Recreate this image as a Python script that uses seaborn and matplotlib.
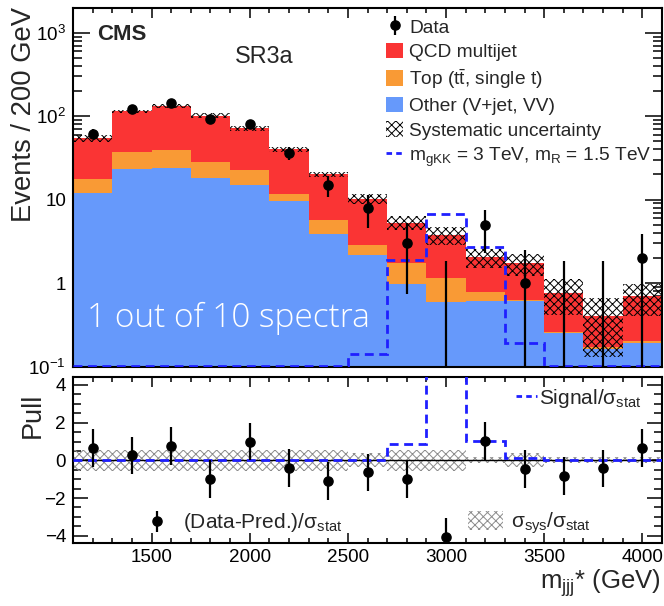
import numpy as np
import pandas as pd
import matplotlib
matplotlib.use("Agg")
import matplotlib.pyplot as plt
import seaborn as sns
from matplotlib.patches import Patch
from matplotlib.lines import Line2D
from matplotlib.legend import Legend
from matplotlib.ticker import MultipleLocator, FixedLocator, FixedFormatter, NullFormatter

# ---------------- data ----------------
bin_edges = [1100, 1300, 1500, 1700, 1900, 2100, 2300, 2500, 2700, 2900, 3100, 3300, 3500, 3700, 3900, 4100]
bin_centers = [1200, 1400, 1600, 1800, 2000, 2200, 2400, 2600, 2800, 3000, 3200, 3400, 3600, 3800, 4000]

other = [11.9, 23.0, 24.0, 18.0, 14.9, 9.5, 3.9, 2.14, 0.98, 0.59, 0.61, 0.61, 0.25, 0.16, 0.19]
top = [5.6, 14.0, 15.0, 10.0, 7.6, 2.3, 1.85, 0.74, 0.75, 0.57, 0.17, 0.01, 0.01, 0.01, 0.01]
qcd = [36.5, 77.0, 92.0, 73.0, 49.0, 28.2, 14.25, 7.42, 3.57, 2.6, 1.27, 1.12, 0.51, 0.23, 0.49]
sys_unc = [5.0, 6.0, 7.5, 7.0, 4.5, 3.0, 1.6, 1.5, 1.0, 0.93, 0.53, 0.51, 0.36, 0.27, 0.29]

data = [61, 121, 143, 92, 80, 36, 15, 8, 3, 0, 5, 1, 0, 0, 2]
data_err_dn = [7.8, 11.0, 12.0, 9.6, 8.9, 6.0, 4.3, 3.4, 2.27, 0.0, 2.7, 1.0, 0.0, 0.0, 2.0]
data_err_up = [8.8, 12.0, 13.0, 10.6, 9.9, 7.0, 4.1, 3.2, 2.2, 1.84, 2.6, 1.5, 1.84, 1.84, 1.9]

signal = [0.101, 0.101, 0.101, 0.101, 0.101, 0.101, 0.101, 0.14, 1.87, 6.8, 2.7, 0.19, 0.101, 0.101, 0.101]

pull = [0.65, 0.26, 0.78, -0.99, 1.0, -0.4, -1.1, -0.64, -1.0, -4.08, 1.04, -0.47, -0.83, -0.43, 0.66]
pull_err = [1.0, 1.0, 1.0, 1.0, 1.0, 1.0, 1.0, 1.0, 1.0, 1.0, 1.0, 1.0, 1.0, 1.0, 1.0]
sys_over_stat = [0.55, 0.55, 0.55, 0.55, 0.55, 0.55, 0.55, 0.37, 0.55, 0.55, 0.16, 0.37, 0.16, 0.16, 0.16]
signal_over_stat = [0.0, 0.0, 0.0, 0.0, 0.0, 0.0, 0.0, 0.02, 0.85, 6.0, 1.02, 0.14, 0.04, 0.03, 0.03]

process_names = ["QCD multijet", "Top (t$\\mathrm{\\bar{t}}$, single t)", "Other (V+jet, VV)"]
process_colors = ["#fa3434", "#f99a35", "#6699fb"]
x_ticks = [1500, 2000, 2500, 3000, 3500, 4000]
y_ticks = [0.1, 1, 10, 100, 1000]
y_ticklabels = ["$10^{-1}$", "1", "10", "$10^{2}$", "$10^{3}$"]
pull_ticks = [-4, -2, 0, 2, 4]
pull_ticklabels = ["\u22124", "\u22122", "0", "2", "4"]

# ---------------- style ----------------
sns.set_theme(style="ticks")
plt.rcParams["font.family"] = ["Liberation Sans", "DejaVu Sans"]
plt.rcParams["mathtext.fontset"] = "custom"
plt.rcParams["mathtext.rm"] = "Liberation Sans"
plt.rcParams["mathtext.it"] = "Liberation Sans:italic"
plt.rcParams["mathtext.bf"] = "Liberation Sans:bold"
plt.rcParams["mathtext.sf"] = "Liberation Sans"
plt.rcParams["hatch.linewidth"] = 0.7

SIG_COLOR = "#1f1fff"
SIG_LS = (0, (3.2, 2.0))
SIG_LS_LEG = (0, (2.0, 1.5))

W, H = 664, 606
fig = plt.figure(figsize=(W / 100, H / 100), dpi=100)
fig.patch.set_facecolor("white")


def fx(px):
    return px / W


def fy(py):
    return 1 - py / H


ax1 = fig.add_axes([fx(73), fy(366.5), fx(662) - fx(73), fy(8.3) - fy(366.5)])
ax2 = fig.add_axes([fx(73), fy(543.3), fx(662) - fx(73), fy(376.5) - fy(543.3)])
for ax in (ax1, ax2):
    ax.set_facecolor("white")

# ---------------- upper panel: stacked histogram ----------------
rows = []
for name, vals in zip(process_names, [qcd, top, other]):
    for c, v in zip(bin_centers, vals):
        rows.append({"x": c, "w": v, "proc": name})
df = pd.DataFrame(rows)

sns.histplot(data=df, x="x", weights="w", hue="proc", hue_order=process_names,
             palette=dict(zip(process_names, process_colors)), bins=bin_edges,
             multiple="stack", element="step", fill=True, alpha=1.0, linewidth=0,
             legend=False, ax=ax1)
ax1.set_yscale("log")

total = np.array(qcd) + np.array(top) + np.array(other)
sys_arr = np.array(sys_unc)
ax1.bar(bin_centers, 2 * sys_arr, bottom=total - sys_arr, width=200, fill=False,
        hatch="xxxx", edgecolor="black", linewidth=0, zorder=3)

ax1.stairs(signal, bin_edges, baseline=None, color=SIG_COLOR, linewidth=2.0,
           linestyle=SIG_LS, zorder=4)

eb = ax1.errorbar(bin_centers, data, yerr=[data_err_dn, data_err_up], fmt="o",
                  color="black", markersize=6.6, elinewidth=1.6, capsize=0, zorder=5)

ax1.set_xlim(1100, 4100)
ax1.set_ylim(0.1, 1960)
ax1.set_xlabel("")
ax1.set_ylabel("")
ax1.yaxis.set_major_locator(FixedLocator(y_ticks))
ax1.yaxis.set_major_formatter(FixedFormatter(y_ticklabels))
ax1.yaxis.set_minor_locator(matplotlib.ticker.LogLocator(base=10, subs=np.arange(2, 10)))
ax1.yaxis.set_minor_formatter(NullFormatter())
ax1.xaxis.set_major_locator(FixedLocator(x_ticks))
ax1.xaxis.set_minor_locator(MultipleLocator(100))
ax1.tick_params(axis="x", which="both", labelbottom=False)

# texts
ax1.text(fx(97), fy(39.5), "CMS", transform=fig.transFigure, fontsize=16,
         fontweight="bold", ha="left", va="baseline")
ax1.text(fx(235), fy(63.3), "SR3a", transform=fig.transFigure, fontsize=16.8,
         ha="left", va="baseline")
ax1.text(fx(87), fy(326.7), "1 out of 10 spectra", transform=fig.transFigure,
         fontsize=24, color="white", ha="left", va="baseline",
         family=["Open Sans", "DejaVu Sans"], fontweight="light", zorder=6)

# legend upper
h_data = eb
h_qcd = Patch(facecolor=process_colors[0], edgecolor="none")
h_top = Patch(facecolor=process_colors[1], edgecolor="none")
h_oth = Patch(facecolor=process_colors[2], edgecolor="none")
h_sys = Patch(facecolor="white", edgecolor="black", hatch="xxxx", linewidth=0)
h_sig = Line2D([], [], color=SIG_COLOR, linewidth=2.0, linestyle=SIG_LS_LEG)
leg1 = ax1.legend([h_data, h_qcd, h_top, h_oth, h_sys, h_sig],
                  ["Data", process_names[0], process_names[1], process_names[2],
                   "Systematic uncertainty",
                   "$\\mathrm{m_{gKK}}$ = 3 TeV, $\\mathrm{m_{R}}$ = 1.5 TeV"],
                  loc="upper left", bbox_to_anchor=(fx(386), fy(18)),
                  bbox_transform=fig.transFigure, frameon=False, fontsize=13.8,
                  handlelength=0.9, handleheight=0.9, handletextpad=0.3,
                  labelspacing=0.31, borderpad=0, borderaxespad=0)

# ---------------- lower panel: pulls ----------------
ax2.bar(bin_centers, 2 * np.array(sys_over_stat), bottom=-np.array(sys_over_stat), width=200,
        fill=False, hatch="xxxx", edgecolor="#8c8c8c", linewidth=0, zorder=1)
ax2.axhline(0, color="black", linewidth=1.0, zorder=2)
ax2.stairs(signal_over_stat, bin_edges, baseline=None, color=SIG_COLOR, linewidth=2.0,
           linestyle=SIG_LS, zorder=3)
eb2 = ax2.errorbar(bin_centers, pull, yerr=pull_err, fmt="o", color="black",
                   markersize=6.6, elinewidth=1.6, capsize=0, zorder=4)
ax2.set_xlim(1100, 4100)
ax2.set_ylim(-4.4, 4.45)
ax2.yaxis.set_major_locator(FixedLocator(pull_ticks))
ax2.yaxis.set_major_formatter(FixedFormatter(pull_ticklabels))
ax2.yaxis.set_minor_locator(MultipleLocator(0.5))
ax2.xaxis.set_major_locator(FixedLocator(x_ticks))
ax2.xaxis.set_minor_locator(MultipleLocator(100))

# tick styling for both panels
for ax in (ax1, ax2):
    for s in ax.spines.values():
        s.set_linewidth(1.5)
        s.set_color("black")
        s.set_visible(True)
    ax.tick_params(which="both", direction="in", top=True, right=True, colors="black",
                   labelsize=13.6, width=1.1)
    ax.tick_params(axis="x", which="major", length=7, pad=4)
    ax.tick_params(axis="x", which="minor", length=3.6)
ax1.tick_params(axis="y", which="major", length=12, pad=5)
ax1.tick_params(axis="y", which="minor", length=6.5)
ax2.tick_params(axis="y", which="major", length=11, pad=5)
ax2.tick_params(axis="y", which="minor", length=5.5)

# lower legends
h_sig2 = Line2D([], [], color=SIG_COLOR, linewidth=2.0, linestyle=SIG_LS_LEG)
lg_a = Legend(ax2, [h_sig2], ["Signal/$\\mathrm{\\sigma_{stat}}$"], loc="center left",
              bbox_to_anchor=(fx(516), fy(398)), bbox_transform=fig.transFigure,
              frameon=False, fontsize=15, handlelength=1.0, handletextpad=0.1,
              borderpad=0, borderaxespad=0)
ax2.add_artist(lg_a)
lg_b = Legend(ax2, [eb2], ["(Data-Pred.)/$\\mathrm{\\sigma_{stat}}$"], loc="center left",
              bbox_to_anchor=(fx(147), fy(523)), bbox_transform=fig.transFigure,
              frameon=False, fontsize=15, handlelength=1.0, handleheight=0.7,
              handletextpad=0.75, borderpad=0, borderaxespad=0)
ax2.add_artist(lg_b)
h_sys2 = Patch(facecolor="white", edgecolor="#8c8c8c", hatch="xxxx", linewidth=0)
lg_c = Legend(ax2, [h_sys2], ["$\\mathrm{\\sigma_{sys}/\\sigma_{stat}}$"], loc="center left",
              bbox_to_anchor=(fx(468), fy(523)), bbox_transform=fig.transFigure,
              frameon=False, fontsize=15, handlelength=1.7, handleheight=1.0,
              handletextpad=0.35, borderpad=0, borderaxespad=0)
ax2.add_artist(lg_c)

ax2.set_xlabel("")
ax2.set_ylabel("")

# axis titles
fig.text(fx(24), fy(7), "Events / 200 GeV", rotation=90, ha="center", va="top", fontsize=19.7)
fig.text(fx(33), fy(393), "Pull", rotation=90, ha="center", va="top", fontsize=19.5)
fig.text(fx(661), fy(589), "$\\mathrm{m_{jjj}}$* (GeV)", ha="right", va="baseline", fontsize=18.5)

fig.savefig("out.png", dpi=100, facecolor="white")
